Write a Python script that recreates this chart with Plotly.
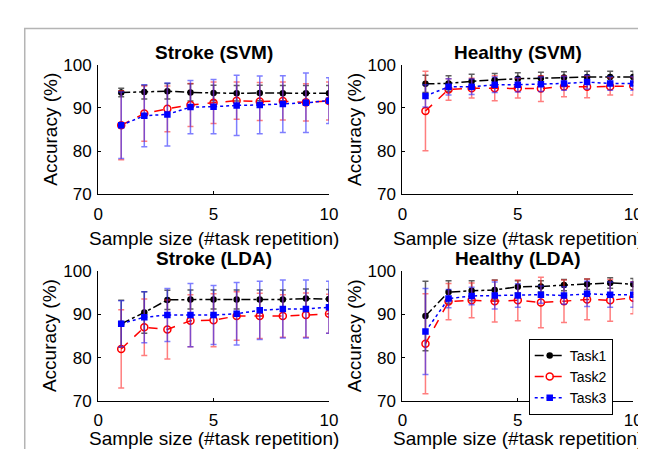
import plotly.graph_objects as go

W, H = 646, 449
x_vals = [1, 2, 3, 4, 5, 6, 7, 8, 9, 10]
task_names = ["Task1", "Task2", "Task3"]
panel_titles = ["Stroke (SVM)", "Healthy (SVM)", "Stroke (LDA)", "Healthy (LDA)"]
x_label = "Sample size (#task repetition)"
y_label = "Accuracy (%)"
x_ticks = [0, 5, 10]
y_ticks = [70, 80, 90, 100]

# Stroke (SVM)
s_svm_t1 = [93.6, 93.7, 93.9, 93.6, 93.5, 93.4, 93.5, 93.4, 93.4, 93.4]
s_svm_t1_err = [1.0, 1.6, 1.8, 2.0, 1.8, 1.8, 1.8, 1.8, 1.8, 1.8]
s_svm_t2 = [86.0, 88.7, 89.8, 90.7, 91.2, 91.7, 91.5, 91.6, 91.3, 91.6]
s_svm_t2_err = [8.0, 6.4, 5.3, 5.0, 4.8, 4.3, 4.4, 4.4, 4.3, 4.4]
s_svm_t3 = [86.0, 88.2, 88.5, 90.2, 90.3, 90.6, 90.7, 90.9, 91.2, 91.7]
s_svm_t3_err = [7.7, 7.2, 7.3, 6.2, 6.3, 7.0, 6.7, 6.6, 6.9, 5.3]

# Healthy (SVM)
h_svm_t1 = [95.6, 95.7, 96.2, 96.5, 96.8, 96.9, 97.1, 97.2, 97.2, 97.2]
h_svm_t1_err = [2.0, 1.8, 1.6, 1.5, 1.4, 1.4, 1.3, 1.3, 1.3, 1.3]
h_svm_t2 = [89.3, 94.3, 94.6, 94.6, 94.6, 94.5, 95.0, 94.9, 95.0, 95.1]
h_svm_t2_err = [9.2, 2.5, 2.3, 2.9, 2.3, 3.0, 2.4, 2.5, 2.0, 2.1]
h_svm_t3 = [92.8, 94.9, 94.9, 95.4, 95.4, 95.5, 95.7, 96.0, 95.7, 95.7]
h_svm_t3_err = [2.6, 1.9, 1.8, 1.8, 1.7, 1.7, 1.6, 1.6, 1.6, 1.6]

# Stroke (LDA)
s_lda_t1 = [87.8, 90.4, 93.3, 93.4, 93.4, 93.4, 93.4, 93.4, 93.6, 93.5]
s_lda_t1_err = [5.4, 4.8, 2.2, 2.2, 2.2, 2.2, 2.2, 2.2, 2.2, 2.2]
s_lda_t2 = [82.0, 87.0, 86.5, 88.5, 88.6, 89.6, 89.6, 89.6, 89.8, 90.1]
s_lda_t2_err = [9.0, 6.5, 6.8, 6.0, 6.1, 5.6, 5.2, 4.9, 5.1, 4.5]
s_lda_t3 = [87.8, 89.3, 89.8, 89.8, 89.8, 90.1, 90.9, 91.2, 91.2, 91.6]
s_lda_t3_err = [5.3, 5.9, 6.1, 7.3, 6.8, 7.2, 6.7, 6.7, 6.7, 6.0]

# Healthy (LDA)
h_lda_t1 = [89.6, 95.1, 95.4, 95.6, 96.3, 96.4, 96.7, 96.9, 97.2, 96.9]
h_lda_t1_err = [8.0, 2.6, 2.3, 2.3, 1.4, 1.3, 1.3, 1.2, 1.2, 1.3]
h_lda_t2 = [83.2, 92.9, 93.2, 93.0, 93.2, 92.7, 93.0, 93.4, 93.2, 93.8]
h_lda_t2_err = [11.5, 4.2, 4.0, 4.8, 4.7, 5.8, 4.9, 4.7, 4.8, 3.7]
h_lda_t3 = [86.0, 93.6, 94.2, 94.3, 94.3, 94.5, 94.3, 94.7, 94.5, 94.5]
h_lda_t3_err = [9.9, 2.1, 2.0, 3.1, 2.7, 2.0, 2.0, 2.9, 2.9, 2.9]

panels = [
    [(s_svm_t1, s_svm_t1_err), (s_svm_t2, s_svm_t2_err), (s_svm_t3, s_svm_t3_err)],
    [(h_svm_t1, h_svm_t1_err), (h_svm_t2, h_svm_t2_err), (h_svm_t3, h_svm_t3_err)],
    [(s_lda_t1, s_lda_t1_err), (s_lda_t2, s_lda_t2_err), (s_lda_t3, s_lda_t3_err)],
    [(h_lda_t1, h_lda_t1_err), (h_lda_t2, h_lda_t2_err), (h_lda_t3, h_lda_t3_err)],
]

FONT = "Liberation Sans, Arial, Helvetica, sans-serif"
styles = [
    dict(color="black", dash="dashdot", symbol="circle", size=5, err="rgba(40,40,40,0.75)"),
    dict(color="red", dash="dash", symbol="circle-open", size=7, err="rgba(255,40,40,0.6)"),
    dict(color="blue", dash="dot", symbol="square", size=5, err="rgba(40,40,255,0.6)"),
]

# pixel geometry of axes (left, right, top, bottom)
px_x = [(87, 323), (398, 634), (87, 323), (398, 634)]
px_y = [(50, 185), (50, 185), (265, 401), (265, 401)]
xlabel_y = [231, 231, 440, 440]

fig = go.Figure()
layout = {}
annotations = []
for i in range(4):
    xa = "x" if i == 0 else f"x{i+1}"
    ya = "y" if i == 0 else f"y{i+1}"
    for j, (vals, errs) in enumerate(panels[i]):
        st = styles[j]
        fig.add_trace(go.Scatter(
            x=x_vals, y=vals, xaxis=xa, yaxis=ya,
            mode="lines+markers", name=task_names[j],
            showlegend=(i == 3),
            line=dict(color=st["color"], dash=st["dash"], width=1.5),
            marker=dict(symbol=st["symbol"], size=st["size"], color=st["color"],
                        line=dict(color=st["color"], width=1.5)),
            error_y=dict(type="data", array=errs, visible=True, color=st["err"],
                         thickness=1.5, width=3),
        ))
    x0, x1 = px_x[i]
    y0, y1 = px_y[i]
    axis_common = dict(showline=True, linecolor="black", linewidth=1, ticks="inside",
                       ticklen=3, tickcolor="black", showgrid=False, zeroline=False,
                       mirror=False, tickfont=dict(family=FONT, size=17, color="black"))
    layout["xaxis" if i == 0 else f"xaxis{i+1}"] = dict(
        domain=[x0 / W, x1 / W], range=[0, 10], tickvals=x_ticks,
        anchor=ya, ticklabelstandoff=4, **axis_common)
    layout["yaxis" if i == 0 else f"yaxis{i+1}"] = dict(
        domain=[1 - y1 / H, 1 - y0 / H], range=[70, 100], tickvals=y_ticks,
        anchor=xa, ticklabelstandoff=2, **axis_common)
    # subplot title
    annotations.append(dict(text=f"<b>{panel_titles[i]}</b>", x=(x0 + x1) / 2 / W,
                            y=1 - (y0 - 13) / H, xref="paper", yref="paper",
                            xanchor="center", yanchor="middle", showarrow=False,
                            font=dict(family=FONT, size=19, color="black")))
    # x-axis title
    annotations.append(dict(text=x_label, x=(x0 + x1) / 2 / W,
                            y=1 - xlabel_y[i] / H,
                            xref="paper", yref="paper", xanchor="center", yanchor="middle",
                            showarrow=False, font=dict(family=FONT, size=19, color="black")))
    # y-axis title
    annotations.append(dict(text=y_label, x=(x0 - 49) / W, y=1 - (y0 + y1) / 2 / H,
                            xref="paper", yref="paper", xanchor="center", yanchor="middle",
                            textangle=-90, showarrow=False,
                            font=dict(family=FONT, size=19, color="black")))

fig.update_layout(
    width=W, height=H, margin=dict(l=0, r=0, t=0, b=0),
    paper_bgcolor="white", plot_bgcolor="white",
    font=dict(family=FONT, color="black"),
    annotations=annotations,
    legend=dict(x=613 / W, y=1 - 336 / H, xanchor="right", yanchor="top",
                bgcolor="white", bordercolor="black", borderwidth=1,
                font=dict(family=FONT, size=14, color="black"),
                itemwidth=30, tracegroupgap=0, traceorder="normal"),
    shapes=[dict(type="rect", xref="paper", yref="paper",
                 x0=12 / W, x1=1.2, y0=-0.2, y1=1 - 12 / H,
                 line=dict(color="#b4b4b4", width=1.5), layer="below")],
    **layout,
)

fig.write_html("out.html")
